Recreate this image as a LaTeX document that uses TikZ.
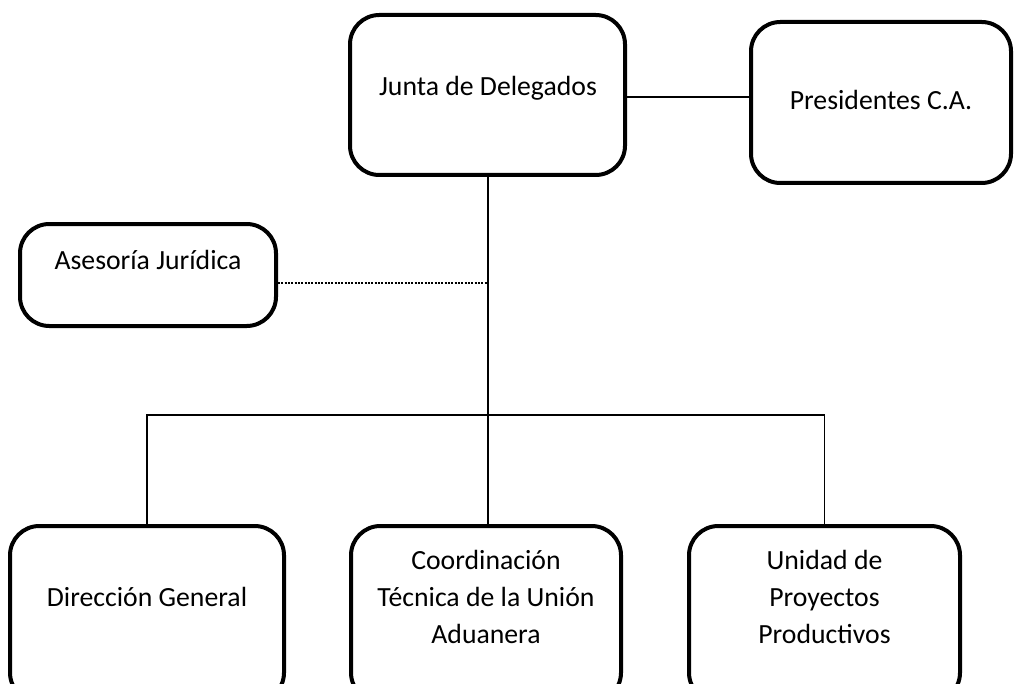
\documentclass[tikz,border=0pt]{standalone}
\usepackage{fontspec}
\setmainfont{Carlito}
\begin{document}
\begin{tikzpicture}[x=0.75pt,y=-0.75pt,
  orgbox/.style={draw=black, line width=3pt, rounded corners=22pt, fill=white, inner sep=0pt},
  txt/.style={align=center, font=\fontsize{20.8}{27.75}\selectfont, inner sep=0pt},
  link/.style={draw=black, line width=1pt},
  dotlink/.style={draw=black, line width=0.8pt, dash pattern=on 1.5pt off 1pt}]
\useasboundingbox (0,0) rectangle (1019,684);
\clip (0,0) rectangle (1019,684);
% boxes
\node[orgbox, minimum width=275*0.75pt, minimum height=160*0.75pt] (jd) at (487.5,95) {};
\node[orgbox, minimum width=260*0.75pt, minimum height=161*0.75pt] (pr) at (881,102.5) {};
\node[orgbox, minimum width=256*0.75pt, minimum height=102*0.75pt] (aj) at (148,275) {};
\node[orgbox, minimum width=274*0.75pt, minimum height=176*0.75pt] (dg) at (147,614) {};
\node[orgbox, minimum width=270*0.75pt, minimum height=176*0.75pt] (ct) at (486,614) {};
\node[orgbox, minimum width=271*0.75pt, minimum height=176*0.75pt] (up) at (824.5,614) {};
% texts
\node[txt] (tjd) at (488,88) {Junta de Delegados};
\node[txt] (tpr) at (881,100) {Presidentes C.A.};
\node[txt] (taj) at (148,260) {Asesoría Jurídica};
\node[txt] (tdg) at (147,597) {Dirección General};
\node[txt] (tct) at (486,597) {Coordinación\\Técnica de la Unión\\Aduanera};
\node[txt] (tup) at (824.5,597) {Unidad de\\Proyectos\\Productivos};
% connectors
\coordinate (bus) at (488,415);
\coordinate (dj) at (488,283);
\draw[link] (jd.east |- 0,97) -- (pr.west |- 0,97);
\draw[link] (jd.south -| bus) -- (ct.north -| bus);
\draw[link] (dg.north) |- (bus) -| (up.north);
\draw[dotlink] (aj.east |- dj) -- (dj);
\end{tikzpicture}
\end{document}
